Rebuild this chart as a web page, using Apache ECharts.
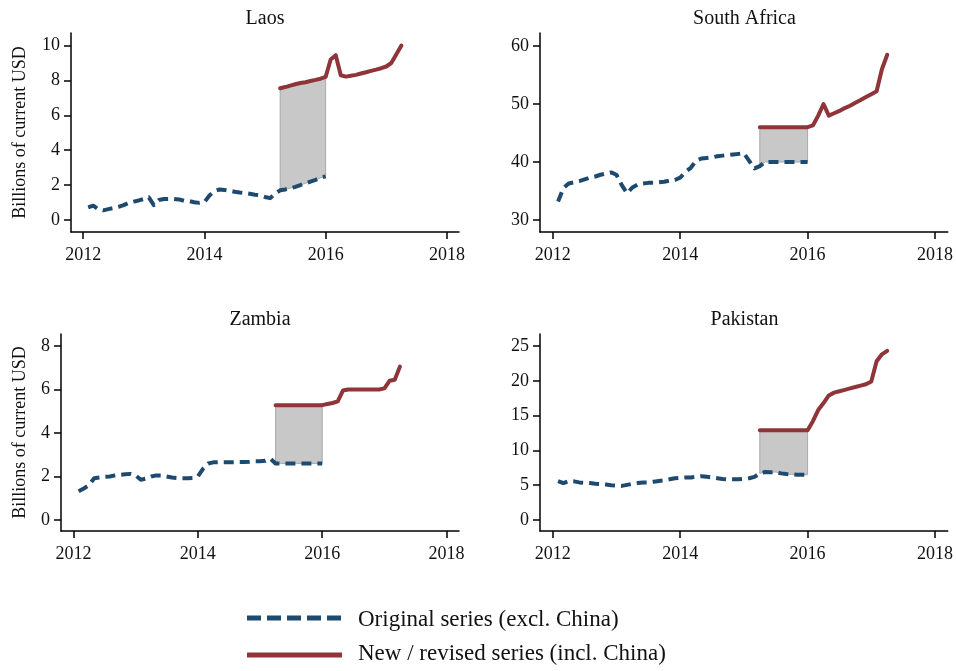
<!DOCTYPE html>
<html><head><meta charset="utf-8">
<script src="https://cdn.jsdelivr.net/npm/echarts@6/dist/echarts.min.js"></script>
<style>html,body{margin:0;padding:0;background:#fff}#c{width:956px;height:671px}</style>
</head><body><div id="c"></div>
<script>
// ---- data ----
const countries = ['Laos', 'South Africa', 'Zambia', 'Pakistan'];
const origMonths = ['2012-02','2012-03','2012-04','2012-05','2012-06','2012-07','2012-08','2012-09','2012-10','2012-11','2012-12',
  '2013-01','2013-02','2013-03','2013-04','2013-05','2013-06','2013-07','2013-08','2013-09','2013-10','2013-11','2013-12',
  '2014-01','2014-02','2014-03','2014-04','2014-05','2014-06','2014-07','2014-08','2014-09','2014-10','2014-11','2014-12',
  '2015-01','2015-02','2015-03','2015-04','2015-05','2015-06','2015-07','2015-08','2015-09','2015-10','2015-11','2015-12',
  '2016-01'];
const revMonths = ['2015-04','2015-05','2015-06','2015-07','2015-08','2015-09','2015-10','2015-11','2015-12',
  '2016-01','2016-02','2016-03','2016-04','2016-05','2016-06','2016-07','2016-08','2016-09','2016-10','2016-11','2016-12',
  '2017-01','2017-02','2017-03','2017-04'];

const laosOrig = [0.72,0.82,0.62,0.55,0.62,0.68,0.75,0.85,0.98,1.05,1.12,
  1.2,1.3,0.85,1.15,1.2,1.2,1.2,1.18,1.1,1.08,1.02,0.98,
  1.02,1.4,1.65,1.75,1.72,1.68,1.62,1.58,1.55,1.5,1.45,1.42,
  1.32,1.25,1.5,1.7,1.75,1.82,1.9,2.0,2.1,2.2,2.3,2.42,
  2.5];
const laosRev = [7.55,7.62,7.7,7.78,7.85,7.9,7.97,8.03,8.1,
  8.2,9.2,9.45,8.3,8.22,8.27,8.32,8.4,8.47,8.55,8.62,8.7,
  8.8,9.0,9.5,10.0];

const saOrig = [33.2,35.5,36.3,36.5,36.7,37.0,37.3,37.5,37.8,38.0,38.2,
  37.8,36.0,34.6,35.6,36.1,36.3,36.4,36.4,36.5,36.6,36.8,36.9,
  37.3,38.3,39.0,40.2,40.6,40.7,40.8,41.0,41.1,41.2,41.3,41.4,
  41.5,40.2,38.9,39.3,40.0,40.0,40.0,40.0,40.0,40.0,40.0,40.0,
  40.0];
const saRev = [46.0,46.0,46.0,46.0,46.0,46.0,46.0,46.0,46.0,
  46.0,46.3,48.0,50.0,48.0,48.4,48.8,49.3,49.7,50.2,50.7,51.2,
  51.7,52.2,56.0,58.5];

const zamOrig = [1.32,1.45,1.6,1.92,1.95,1.98,2.0,2.05,2.08,2.1,2.12,
  2.05,1.85,1.9,2.0,2.05,2.05,2.0,1.95,1.93,1.92,1.92,1.93,
  2.0,2.35,2.6,2.65,2.66,2.66,2.66,2.66,2.67,2.67,2.68,2.7,
  2.7,2.72,2.82,2.6,2.6,2.6,2.6,2.6,2.6,2.6,2.6,2.6,
  2.6];
const zamRev = [5.28,5.28,5.28,5.28,5.28,5.28,5.28,5.28,5.28,
  5.28,5.33,5.38,5.45,5.95,6.0,6.0,6.0,6.0,6.0,6.0,6.0,
  6.05,6.4,6.45,7.05];

const pakOrig = [5.6,5.3,5.6,5.55,5.4,5.35,5.3,5.2,5.15,5.1,5.0,
  4.95,4.9,5.05,5.2,5.3,5.4,5.4,5.5,5.6,5.7,5.85,6.0,
  6.05,6.1,6.1,6.2,6.3,6.2,6.1,6.0,5.9,5.85,5.85,5.85,
  5.9,6.0,6.2,6.7,6.9,6.85,6.9,6.7,6.6,6.55,6.5,6.5,
  6.5];
const pakRev = [12.9,12.9,12.9,12.9,12.9,12.9,12.9,12.9,12.9,
  12.9,14.2,15.8,16.8,17.9,18.3,18.5,18.7,18.9,19.1,19.3,19.5,
  19.9,22.8,23.8,24.3];

const xTicks = [2012, 2014, 2016, 2018];
const yTicksLaos = [0, 2, 4, 6, 8, 10];
const yTicksSA = [30, 40, 50, 60];
const yTicksZam = [0, 2, 4, 6, 8];
const yTicksPak = [0, 5, 10, 15, 20, 25];

const yAxisTitle = 'Billions of current USD';
const legendNames = ['Original series (excl. China)', 'New / revised series (incl. China)'];

// ---- build ----
const FONT = 'Liberation Serif';
const BLUE = '#1f4a6f';
const RED = '#8f3439';
const toYear = s => { const p = s.split('-'); return +p[0] + (+p[1] - 1) / 12; };
const origX = origMonths.map(toYear);
const revX = revMonths.map(toYear);

const panels = [
  { name: countries[0], orig: laosOrig, rev: laosRev, ticks: yTicksLaos, ymin: -0.69, ymax: 10.72, grid: { left: 71, top: 33, width: 388, height: 199 }, yname: true, nameGap: 42 },
  { name: countries[1], orig: saOrig, rev: saRev, ticks: yTicksSA, ymin: 27.93, ymax: 62.24, grid: { left: 540, top: 33, width: 409, height: 199 }, yname: false },
  { name: countries[2], orig: zamOrig, rev: zamRev, ticks: yTicksZam, ymin: -0.506, ymax: 8.55, grid: { left: 61, top: 334, width: 398, height: 197 }, yname: true, nameGap: 32 },
  { name: countries[3], orig: pakOrig, rev: pakRev, ticks: yTicksPak, ymin: -1.58, ymax: 26.72, grid: { left: 540, top: 334, width: 409, height: 197 }, yname: false }
];

const axisLine = { show: true, onZero: false, lineStyle: { color: '#000', width: 1.5 } };
const labelStyle = { fontFamily: FONT, fontSize: 18, color: '#111' };

const grids = [], xAxes = [], yAxes = [], series = [], graphics = [];
panels.forEach((p, i) => {
  grids.push(Object.assign({ containLabel: false }, p.grid));
  xAxes.push({
    type: 'value', gridIndex: i, min: 2011.8, max: 2018.2,
    axisLine: axisLine,
    axisTick: { show: true, customValues: xTicks, length: 7, lineStyle: { color: '#000', width: 1.5 } },
    axisLabel: Object.assign({ customValues: xTicks, margin: 14, formatter: v => String(v) }, labelStyle),
    splitLine: { show: false }
  });
  yAxes.push({
    type: 'value', gridIndex: i, min: p.ymin, max: p.ymax,
    axisLine: axisLine,
    axisTick: { show: true, customValues: p.ticks, length: 7, lineStyle: { color: '#000', width: 1.5 } },
    axisLabel: Object.assign({ customValues: p.ticks, margin: 11 }, labelStyle),
    splitLine: { show: false },
    name: p.yname ? yAxisTitle : '',
    nameLocation: 'middle', nameGap: p.nameGap || 0, nameRotate: 90,
    nameTextStyle: { fontFamily: FONT, fontSize: 18, color: '#111' }
  });
  // overlap region for shading
  const fx = [], fTop = [], fBot = [];
  revX.forEach((x, j) => {
    const k = origX.findIndex(v => Math.abs(v - x) < 1e-6);
    if (k >= 0) { fx.push(x); fTop.push(p.rev[j]); fBot.push(p.orig[k]); }
  });
  series.push({
    type: 'custom', xAxisIndex: i, yAxisIndex: i, z: 1, silent: true,
    data: [[fx[0], fBot[0]]],
    renderItem: function (params, api) {
      const pts = [];
      for (let j = 0; j < fx.length; j++) pts.push(api.coord([fx[j], fTop[j]]));
      for (let j = fx.length - 1; j >= 0; j--) pts.push(api.coord([fx[j], fBot[j]]));
      return { type: 'polygon', shape: { points: pts }, style: { fill: '#c8c8c8', stroke: '#a9a9a9', lineWidth: 1 } };
    }
  });
  series.push({
    type: 'line', xAxisIndex: i, yAxisIndex: i, z: 3, showSymbol: false, symbol: 'none', animation: false,
    data: origX.map((x, j) => [x, p.orig[j]]),
    lineStyle: { color: BLUE, width: 4, type: [10, 6], cap: 'butt', join: 'round' }
  });
  series.push({
    type: 'line', xAxisIndex: i, yAxisIndex: i, z: 4, showSymbol: false, symbol: 'none', animation: false,
    data: revX.map((x, j) => [x, p.rev[j]]),
    lineStyle: { color: RED, width: 4, cap: 'round', join: 'round' }
  });
  graphics.push({
    type: 'text', x: p.grid.left + p.grid.width / 2, y: p.grid.top - 14,
    style: { text: p.name, font: '20px "' + FONT + '"', fill: '#111', textAlign: 'center', textVerticalAlign: 'middle' }
  });
});

// legend
graphics.push({ type: 'line', shape: { x1: 247, y1: 618, x2: 342, y2: 618 }, style: { stroke: BLUE, lineWidth: 5, lineDash: [14, 6] } });
graphics.push({ type: 'line', shape: { x1: 247, y1: 655, x2: 342, y2: 655 }, style: { stroke: RED, lineWidth: 5 } });
graphics.push({ type: 'text', x: 358, y: 620, style: { text: legendNames[0], font: '23px "' + FONT + '"', fill: '#111', textVerticalAlign: 'middle' } });
graphics.push({ type: 'text', x: 358, y: 654, style: { text: legendNames[1], font: '23px "' + FONT + '"', fill: '#111', textVerticalAlign: 'middle' } });

const chart = echarts.init(document.getElementById('c'), null, { renderer: 'canvas' });
chart.setOption({
  animation: false,
  backgroundColor: '#fff',
  grid: grids, xAxis: xAxes, yAxis: yAxes, series: series,
  graphic: graphics
});
</script></body></html>
